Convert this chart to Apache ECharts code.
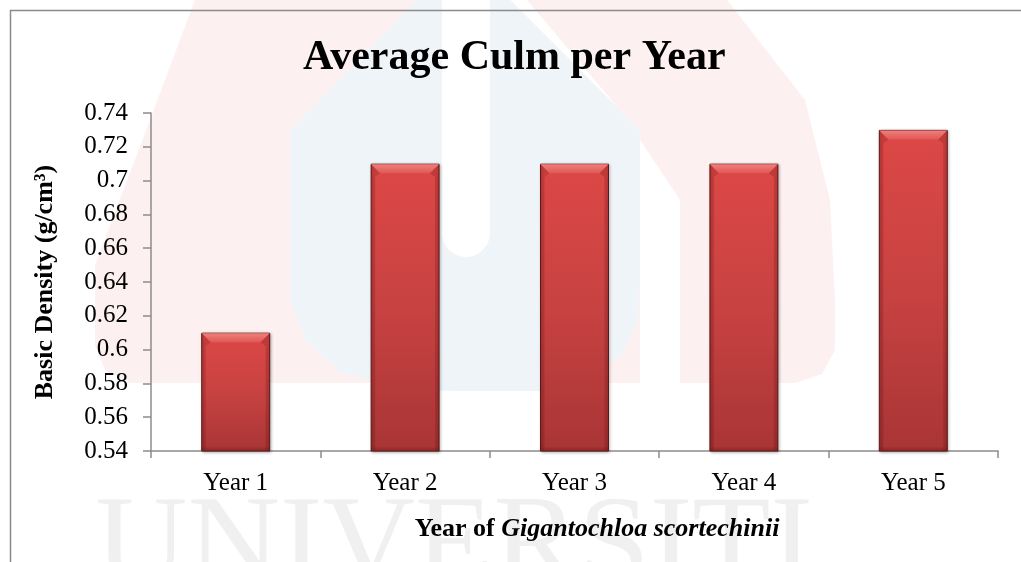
<!DOCTYPE html>
<html>
<head>
<meta charset="utf-8">
<script src="https://cdn.jsdelivr.net/npm/echarts@6/dist/echarts.min.js"></script>
<style>
html,body{margin:0;padding:0;background:#fff;}
#chart{width:1021px;height:562px;}
</style>
</head>
<body>
<div id="chart"></div>
<script>
const categories = ['Year 1', 'Year 2', 'Year 3', 'Year 4', 'Year 5'];
const density = [0.61, 0.71, 0.71, 0.71, 0.73];
const titleText = 'Average Culm per Year';
const yAxisName = 'Basic Density (g/cm\u00B3)';
const xAxisNamePlain = 'Year of ';
const xAxisNameItalic = 'Gigantochloa scortechinii';
const yMin = 0.54, yMax = 0.74, yStep = 0.02;

const serif = '"Liberation Serif", "Times New Roman", serif';
const chart = echarts.init(document.getElementById('chart'), null, {renderer: 'canvas'});

const pink = '#fdf0f0';
const blue = '#eff4f8';
const barRatio = 0.407;

const option = {
  backgroundColor: '#ffffff',
  animation: false,
  title: {
    text: titleText,
    left: 303,
    top: 37,
    padding: 0,
    textStyle: {fontFamily: serif, fontWeight: 'bold', fontSize: 42, color: '#000'}
  },
  graphic: {
    elements: [
      {type: 'polygon', z: -10, silent: true,
       shape: {points: [[195,0],[150,120],[95,265],[95,345],[105,370],[130,383],[795,383],[822,374],[835,350],[835,300],[830,200],[805,100],[727,0]]},
       style: {fill: pink}},
      {type: 'polygon', z: -9, silent: true,
       shape: {points: [[510,0],[527,0],[620,110],[680,200],[680,395],[640,395],[640,130]]},
       style: {fill: '#ffffff'}},
      {type: 'polygon', z: -8, silent: true,
       shape: {points: [[417,0],[290,130],[290,300],[305,340],[340,372],[400,388],[450,391],[540,391],[590,380],[622,355],[638,320],[640,280],[640,130],[510,0]]},
       style: {fill: blue}},
      {type: 'rect', z: -7, silent: true,
       shape: {x: 442, y: -40, width: 48, height: 297, r: 24},
       style: {fill: '#ffffff'}},
      {type: 'text', z: -6, silent: true, x: 95, y: 549,
       style: {text: 'UNIVERSITI', font: '128px "Liberation Serif", serif', fill: '#f0f0f0', verticalAlign: 'middle', align: 'left'}},
      {type: 'rect', z: 50, silent: true,
       shape: {x: 10.5, y: 10.5, width: 1100, height: 700},
       style: {fill: 'none', stroke: '#8a8a8a', lineWidth: 1.5}}
    ]
  },
  grid: {left: 151, right: 23, top: 113, bottom: 111, containLabel: false},
  xAxis: {
    type: 'category',
    data: categories,
    boundaryGap: true,
    axisLine: {show: true, lineStyle: {color: '#8c8c8c', width: 1.5}},
    axisTick: {show: true, alignWithLabel: false, length: 7, lineStyle: {color: '#8c8c8c', width: 1.5}},
    axisLabel: {color: '#000', fontFamily: serif, fontSize: 25, margin: 20},
    name: '{b|' + xAxisNamePlain + '}{bi|' + xAxisNameItalic + '}',
    nameLocation: 'middle',
    nameGap: 65,
    nameTextStyle: {
      padding: [0, 0, 0, 45],
      rich: {
        b: {fontFamily: serif, fontWeight: 'bold', fontSize: 26, color: '#000'},
        bi: {fontFamily: serif, fontWeight: 'bold', fontStyle: 'italic', fontSize: 26, color: '#000'}
      }
    }
  },
  yAxis: {
    type: 'value',
    min: yMin,
    max: yMax,
    interval: yStep,
    axisLine: {show: true, lineStyle: {color: '#8c8c8c', width: 1.5}},
    axisTick: {show: true, length: 8, lineStyle: {color: '#8c8c8c', width: 1.5}},
    splitLine: {show: false},
    axisLabel: {color: '#000', fontFamily: serif, fontSize: 25, margin: 23,
      formatter: v => String(Number(v.toFixed(2)))},
    name: yAxisName,
    nameLocation: 'middle',
    nameGap: 93,
    nameRotate: 90,
    nameTextStyle: {fontFamily: serif, fontWeight: 'bold', fontSize: 26, color: '#000'}
  },
  series: [{
    type: 'bar',
    data: density,
    barWidth: (barRatio * 100) + '%',
    z: 2,
    itemStyle: {
      color: new echarts.graphic.LinearGradient(0, 0, 0, 1, [
        {offset: 0, color: '#dc4846'},
        {offset: 0.5, color: '#c84242'},
        {offset: 1, color: '#a93535'}
      ]),
      borderColor: '#5e1818',
      borderWidth: 1,
      shadowColor: 'rgba(0,0,0,0.3)',
      shadowBlur: 3,
      shadowOffsetX: 1,
      shadowOffsetY: 1
    }
  }, {
    type: 'custom',
    z: 3,
    silent: true,
    data: density.map((v, i) => [i, v]),
    encode: {x: 0, y: 1},
    renderItem: function (params, api) {
      const top = api.coord([api.value(0), api.value(1)]);
      const base = api.coord([api.value(0), yMin]);
      const w = api.size([1, 0])[0] * barRatio;
      const x0 = top[0] - w / 2 + 0.5, x1 = top[0] + w / 2 - 0.5;
      const y0 = top[1] + 0.5, y1 = base[1] - 0.5;
      const b = 9, s = 4;
      return {
        type: 'group',
        children: [
          {type: 'polygon', shape: {points: [[x0, y0], [x1, y0], [x1 - b, y0 + b], [x0 + b, y0 + b]]},
           style: {fill: new echarts.graphic.LinearGradient(0, 0, 0, 1, [
             {offset: 0, color: '#f0807c'}, {offset: 1, color: '#e05856'}])}},
          {type: 'polygon', shape: {points: [[x0, y0], [x0 + b, y0 + b], [x0 + s, y0 + b + 4], [x0 + s, y1], [x0, y1]]},
           style: {fill: 'rgba(90,15,15,0.16)'}},
          {type: 'polygon', shape: {points: [[x1, y0], [x1 - b, y0 + b], [x1 - s, y0 + b + 4], [x1 - s, y1], [x1, y1]]},
           style: {fill: 'rgba(90,15,15,0.22)'}},
          {type: 'rect', shape: {x: x0, y: y1 - 3, width: x1 - x0, height: 3},
           style: {fill: 'rgba(90,15,15,0.18)'}}
        ]
      };
    }
  }]
};
chart.setOption(option);
</script>
</body>
</html>
